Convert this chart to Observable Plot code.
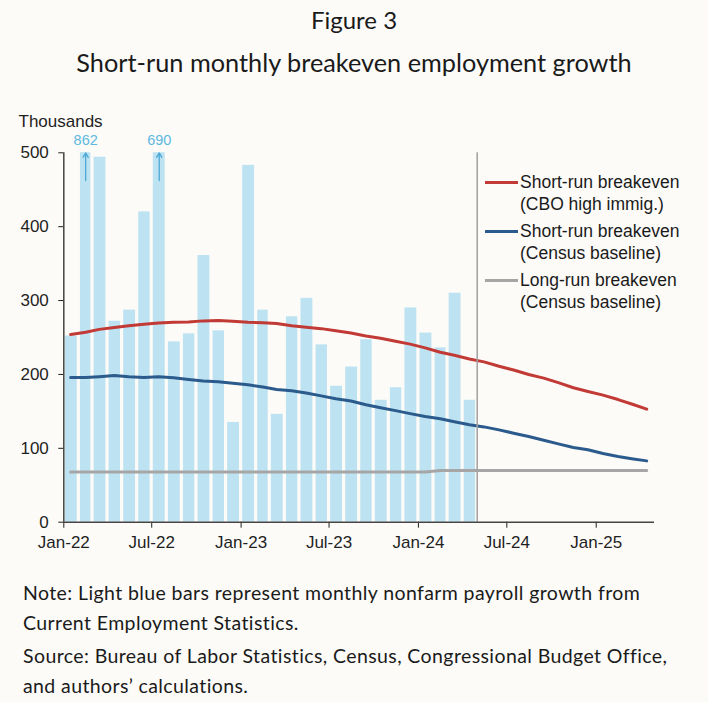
<!DOCTYPE html>
<html><head><meta charset="utf-8">
<script src="https://cdn.jsdelivr.net/npm/d3@7"></script>
<script src="https://cdn.jsdelivr.net/npm/@observablehq/plot@0.6"></script>
<style>
html,body{margin:0;padding:0;background:#fcfbf8;}
#wrap{position:relative;width:708px;height:702px;overflow:hidden;font-family:Lato, sans-serif;color:#1a1a1a;background:#fcfbf8;}
.title{position:absolute;left:0;width:708px;text-align:center;white-space:nowrap;}
#fig{top:5px;font-size:24px;line-height:30px;}
#sub{top:47px;font-size:25.3px;line-height:30px;}
#chart{position:absolute;left:0;top:100px;}
#legend{position:absolute;left:485px;top:172px;font-family:"Liberation Sans",Arial,sans-serif;font-size:17.5px;line-height:21.7px;color:#1a1a1a;}
.row{display:flex;align-items:flex-start;margin-bottom:5.5px;}
.sw{width:33px;height:3px;margin-top:9.4px;margin-right:2px;flex:none;}
#notes{position:absolute;left:23px;top:578px;font-size:19.5px;letter-spacing:0.4px;line-height:30px;white-space:nowrap;}
#notes p{margin:0 0 3px 0;}
</style></head><body>
<div id="wrap">
  <div class="title" id="fig">Figure 3</div>
  <div class="title" id="sub">Short-run monthly breakeven employment growth</div>
  <div id="chart"></div>
  <div id="legend"></div>
  <div id="notes">
    <p>Note: Light blue bars represent monthly nonfarm payroll growth from<br>Current Employment Statistics.</p>
    <p>Source: Bureau of Labor Statistics, Census, Congressional Budget Office,<br>and authors’ calculations.</p>
  </div>
</div>
<script>
// ---- Data ----
const payrollMonths = ["2022-01","2022-02","2022-03","2022-04","2022-05","2022-06","2022-07","2022-08","2022-09","2022-10","2022-11","2022-12",
  "2023-01","2023-02","2023-03","2023-04","2023-05","2023-06","2023-07","2023-08","2023-09","2023-10","2023-11","2023-12",
  "2024-01","2024-02","2024-03","2024-04"];
const payrollGrowth = [252, 862, 494, 272, 287, 420, 690, 244, 255, 361, 259, 135,
  483, 287, 146, 278, 303, 240, 184, 210, 247, 165, 182, 290,
  256, 236, 310, 165];

const lineMonths = ["2022-01","2022-02","2022-03","2022-04","2022-05","2022-06","2022-07","2022-08","2022-09","2022-10","2022-11","2022-12",
  "2023-01","2023-02","2023-03","2023-04","2023-05","2023-06","2023-07","2023-08","2023-09","2023-10","2023-11","2023-12",
  "2024-01","2024-02","2024-03","2024-04","2024-05","2024-06","2024-07","2024-08","2024-09","2024-10","2024-11","2024-12",
  "2025-01","2025-02","2025-03","2025-04"];
const shortRunCBO = [254,257,261,263.5,266,268,269.5,270.5,271,272.5,273,272,
  270.5,270,269,266,264,262,259,256,252,249,245,241,
  236,230,226,221,217,211,206,200,195,189,182,177,
  172,166,160,153];
const shortRunCensus = [196,196,197,198.5,197,196,197,195.5,193,191,190,188,
  186,183,179.5,178,175,171,167,164,159,155,151,147,
  143,140,136,132,129,125,120.5,116,111,106,101,98,
  93,89,86,83];
const longRunCensus = [68,68,68,68,68,68,68,68,68,68,68,68,
  68,68,68,68,68,68,68,68,68,68,68,68,
  68,70,70,70,70,70,70,70,70,70,70,70,
  70,70,70,70];

const seriesNames = ["Short-run breakeven\n(CBO high immig.)", "Short-run breakeven\n(Census baseline)", "Long-run breakeven\n(Census baseline)"];
const seriesColors = ["#c23a35", "#2b5a8c", "#a6a6a6"];
const xTickMonths = ["2022-01","2022-07","2023-01","2023-07","2024-01","2024-07","2025-01"];
const yTicks = [0, 100, 200, 300, 400, 500];
const xDomainMonths = ["2022-01", "2025-05"];
const forecastStartMonth = "2024-05";
const yMax = 500;

// ---- Helpers ----
const parse = s => new Date(s + "-01T00:00:00Z");
const mid = s => { const d = parse(s); return new Date(Date.UTC(d.getUTCFullYear(), d.getUTCMonth(), 15)); };
const nextMonth = s => { const d = parse(s); return new Date(Date.UTC(d.getUTCFullYear(), d.getUTCMonth() + 1, 1)); };

const bars = payrollMonths.map((m, i) => ({x1: parse(m), x2: nextMonth(m), value: payrollGrowth[i]}));
const seriesValues = [shortRunCBO, shortRunCensus, longRunCensus];
const lineData = seriesValues.map(vals => lineMonths.map((m, i) => ({date: mid(m), value: vals[i]})));
const overflow = bars.filter(d => d.value > yMax).map(d => ({...d, xm: new Date((+d.x1 + +d.x2) / 2)}));
const xStart = parse(xDomainMonths[0]);

const plot = Plot.plot({
  width: 708,
  height: 460,
  marginTop: 52.3,
  marginBottom: 38.3,
  marginLeft: 63.3,
  marginRight: 54,
  style: {fontFamily: "'Liberation Sans', Arial, sans-serif", fontSize: "17px", color: "#1f1f1f", background: "transparent", overflow: "visible"},
  x: {type: "utc", domain: xDomainMonths.map(parse), ticks: xTickMonths.map(parse), tickFormat: d3.utcFormat("%b-%y"), tickSize: 6, tickPadding: 8, label: null},
  y: {domain: [0, yMax], ticks: yTicks, tickSize: 5, tickPadding: 10, label: null},
  marks: [
    Plot.rectY(bars, {x1: "x1", x2: "x2", y: "value", fill: "#bde2f1", insetLeft: 1.6, insetRight: 1.6, clip: true}),
    Plot.arrow(overflow, {x: "xm", y1: () => yMax * 0.925, y2: () => yMax, stroke: "#4fa9d6", strokeWidth: 1.3, headLength: 6}),
    Plot.text(overflow, {x: "xm", y: () => yMax, text: d => String(d.value), dy: -12, fill: "#5cb8e0", fontSize: 14.5}),
    Plot.line(lineData[2], {x: "date", y: "value", stroke: seriesColors[2], strokeWidth: 3}),
    Plot.line(lineData[1], {x: "date", y: "value", stroke: seriesColors[1], strokeWidth: 3}),
    Plot.line(lineData[0], {x: "date", y: "value", stroke: seriesColors[0], strokeWidth: 3}),
    Plot.ruleX([parse(forecastStartMonth)], {stroke: "#a0a0a0", strokeWidth: 1.5}),
    Plot.ruleY([0], {stroke: "#444", strokeWidth: 1.5}),
    Plot.ruleX([xStart], {stroke: "#444", strokeWidth: 1.5}),
    Plot.text(["Thousands"], {frameAnchor: "top-left", lineAnchor: "middle", dx: -45.3, dy: -31.3, textAnchor: "start", fontSize: 17, fill: "#1f1f1f"})
  ]
});
document.getElementById("chart").appendChild(plot);

// ---- Legend ----
const legend = document.getElementById("legend");
seriesNames.forEach((name, i) => {
  const row = document.createElement("div");
  row.className = "row";
  const sw = document.createElement("div");
  sw.className = "sw";
  sw.style.background = seriesColors[i];
  const lab = document.createElement("div");
  lab.innerHTML = name.split("\n").join("<br>");
  row.appendChild(sw); row.appendChild(lab);
  legend.appendChild(row);
});
</script>
</body></html>
